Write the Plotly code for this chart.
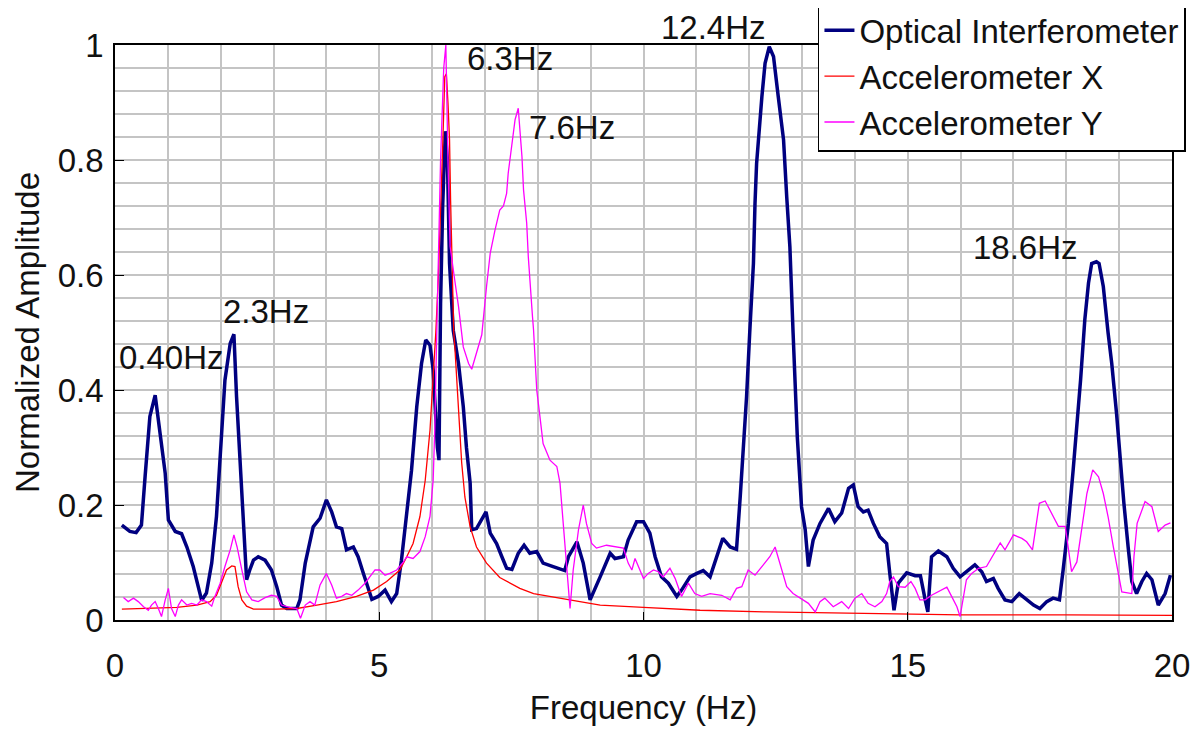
import plotly.graph_objects as go

# ---------------- data ----------------
opt_freq = [0.13,0.28,0.40,0.50,0.57,0.66,0.76,0.85,0.95,1.01,1.14,1.26,1.36,1.48,1.58,1.64,1.73,1.83,1.92,2.00,
            2.08,2.18,2.25,2.30,2.37,2.43,2.49,2.55,2.62,2.71,2.84,2.96,3.06,3.15,3.25,3.44,3.50,3.60,3.75,3.88,
            4.00,4.10,4.19,4.29,4.38,4.51,4.60,4.70,4.79,4.86,4.98,5.11,5.23,5.33,5.42,5.52,5.61,5.71,5.80,5.88,
            5.96,6.02,6.07,6.10,6.13,6.16,6.20,6.25,6.29,6.33,6.40,6.50,6.59,6.65,6.72,6.75,6.84,6.94,7.02,7.10,
            7.22,7.32,7.41,7.51,7.63,7.74,7.85,7.98,8.10,8.29,8.51,8.58,8.74,8.86,8.99,9.18,9.37,9.46,9.62,9.71,
            9.87,10.00,10.12,10.22,10.34,10.47,10.63,10.72,10.88,11.01,11.13,11.26,11.38,11.50,11.64,11.76,11.83,11.89,11.95,12.01,
            12.08,12.11,12.14,12.24,12.30,12.38,12.46,12.55,12.65,12.71,12.77,12.83,12.91,12.99,13.06,13.12,13.21,13.34,13.50,13.62,
            13.75,13.88,13.97,14.06,14.16,14.25,14.35,14.47,14.60,14.66,14.74,14.82,14.98,15.14,15.24,15.33,15.38,15.45,15.58,15.74,
            15.86,15.99,16.11,16.27,16.40,16.49,16.62,16.71,16.84,16.97,17.11,17.25,17.38,17.50,17.63,17.75,17.87,17.94,18.04,18.13,
            18.21,18.27,18.35,18.42,18.48,18.57,18.62,18.70,18.79,18.86,18.95,19.02,19.09,19.17,19.24,19.33,19.43,19.52,19.62,19.74,
            19.87,19.97]
opt_amp = [0.165,0.154,0.152,0.165,0.25,0.354,0.391,0.33,0.255,0.174,0.154,0.15,0.127,0.093,0.058,0.034,0.047,0.099,0.18,0.30,
           0.417,0.481,0.497,0.388,0.26,0.157,0.07,0.087,0.104,0.11,0.104,0.087,0.058,0.026,0.02,0.02,0.035,0.099,0.162,0.177,
           0.209,0.188,0.162,0.159,0.122,0.127,0.11,0.081,0.058,0.036,0.041,0.052,0.032,0.046,0.104,0.18,0.26,0.371,0.446,0.487,
           0.478,0.435,0.34,0.30,0.278,0.55,0.72,0.85,0.80,0.62,0.504,0.446,0.371,0.30,0.238,0.157,0.159,0.174,0.188,0.151,
           0.133,0.11,0.09,0.088,0.116,0.13,0.116,0.119,0.099,0.093,0.086,0.11,0.136,0.099,0.035,0.075,0.116,0.107,0.11,0.139,
           0.171,0.171,0.151,0.11,0.075,0.064,0.041,0.052,0.075,0.081,0.086,0.075,0.11,0.142,0.127,0.123,0.214,0.30,0.388,0.50,
           0.62,0.725,0.794,0.91,0.968,0.997,0.98,0.91,0.835,0.736,0.649,0.50,0.319,0.197,0.157,0.093,0.139,0.168,0.194,0.171,
           0.186,0.229,0.235,0.197,0.188,0.191,0.168,0.145,0.133,0.081,0.017,0.064,0.082,0.077,0.077,0.035,0.014,0.11,0.12,0.11,
           0.09,0.075,0.084,0.096,0.084,0.067,0.072,0.055,0.035,0.032,0.046,0.035,0.026,0.02,0.032,0.038,0.035,0.087,0.168,0.261,
           0.342,0.417,0.522,0.586,0.62,0.623,0.62,0.58,0.50,0.446,0.36,0.273,0.203,0.127,0.067,0.046,0.067,0.081,0.07,0.026,
           0.046,0.078]

accx_freq = [0.13,0.54,1.17,1.55,1.80,1.92,2.02,2.11,2.21,2.27,2.33,2.40,2.49,2.62,3.06,3.44,3.82,4.19,4.57,4.89,
             5.14,5.39,5.52,5.64,5.77,5.87,5.96,6.02,6.07,6.12,6.16,6.20,6.24,6.27,6.30,6.33,6.35,6.37,6.39,6.41,
             6.43,6.47,6.51,6.56,6.62,6.72,6.84,7.03,7.28,7.66,7.92,8.55,9.18,10.00,11.07,12.33,13.59,15.00,16.00,18.00,
             20.00]
accx_amp = [0.019,0.02,0.022,0.026,0.032,0.043,0.067,0.087,0.094,0.093,0.058,0.035,0.024,0.019,0.019,0.02,0.026,0.032,0.041,0.052,
            0.067,0.087,0.11,0.133,0.18,0.243,0.33,0.417,0.50,0.60,0.70,0.823,0.945,0.95,0.90,0.835,0.73,0.632,0.557,0.499,
            0.475,0.417,0.342,0.273,0.214,0.162,0.127,0.099,0.074,0.055,0.046,0.036,0.026,0.022,0.017,0.014,0.012,0.011,0.009,0.009,
            0.008]

accy_freq = [0.16,0.25,0.35,0.44,0.54,0.63,0.69,0.76,0.82,0.88,0.95,1.01,1.07,1.14,1.20,1.26,1.36,1.45,1.55,1.64,
             1.73,1.83,1.89,1.99,2.08,2.18,2.25,2.31,2.40,2.49,2.59,2.71,2.84,2.96,3.06,3.15,3.31,3.44,3.51,3.60,
             3.69,3.78,3.88,4.00,4.10,4.19,4.29,4.38,4.48,4.60,4.73,4.82,4.92,5.01,5.11,5.20,5.33,5.45,5.52,5.64,
             5.77,5.87,5.96,6.02,6.05,6.10,6.16,6.22,6.26,6.30,6.34,6.43,6.50,6.59,6.69,6.75,6.84,6.94,7.03,7.10,
             7.19,7.28,7.35,7.41,7.44,7.51,7.57,7.63,7.70,7.73,7.79,7.82,7.85,7.90,7.92,7.95,7.98,8.04,8.10,8.23,
             8.36,8.42,8.48,8.55,8.61,8.67,8.77,8.86,8.92,9.02,9.11,9.30,9.46,9.62,9.71,9.78,9.84,9.90,10.00,10.09,
             10.19,10.28,10.37,10.50,10.60,10.72,10.85,10.97,11.10,11.26,11.48,11.64,11.76,11.86,11.98,12.11,12.27,12.39,12.49,12.58,
             12.71,12.83,12.99,13.12,13.25,13.34,13.43,13.59,13.75,13.88,14.00,14.13,14.25,14.38,14.51,14.60,14.66,14.73,14.82,14.95,
             15.06,15.14,15.23,15.33,15.45,15.58,15.74,15.83,15.93,15.99,16.05,16.11,16.21,16.34,16.49,16.62,16.75,16.84,17.00,17.16,
             17.25,17.36,17.49,17.60,17.72,17.85,17.98,18.04,18.10,18.20,18.29,18.39,18.50,18.61,18.70,18.79,18.89,18.99,19.05,19.24,
             19.28,19.34,19.49,19.62,19.74,19.87,19.97]
accy_amp = [0.039,0.032,0.038,0.032,0.023,0.017,0.026,0.032,0.02,0.006,0.035,0.055,0.02,0.006,0.026,0.035,0.026,0.029,0.026,0.035,
            0.032,0.024,0.041,0.064,0.093,0.122,0.148,0.127,0.087,0.049,0.035,0.032,0.039,0.043,0.041,0.026,0.022,0.02,0.003,0.026,
            0.032,0.026,0.061,0.081,0.061,0.038,0.041,0.046,0.043,0.052,0.064,0.075,0.087,0.087,0.078,0.081,0.087,0.10,0.11,0.107,
            0.119,0.145,0.18,0.243,0.33,0.55,0.80,0.96,1.0,0.80,0.65,0.59,0.545,0.475,0.446,0.436,0.464,0.496,0.58,0.638,
            0.678,0.713,0.72,0.742,0.777,0.83,0.87,0.89,0.806,0.748,0.69,0.632,0.586,0.527,0.504,0.446,0.40,0.354,0.307,0.278,
            0.267,0.238,0.168,0.099,0.02,0.087,0.157,0.20,0.168,0.133,0.125,0.13,0.127,0.125,0.099,0.087,0.107,0.093,0.072,0.081,
            0.087,0.084,0.075,0.09,0.072,0.041,0.064,0.046,0.041,0.046,0.043,0.035,0.055,0.058,0.087,0.078,0.096,0.11,0.127,0.099,
            0.058,0.046,0.036,0.029,0.014,0.032,0.038,0.023,0.032,0.02,0.038,0.046,0.029,0.023,0.032,0.046,0.067,0.075,0.058,0.057,
            0.067,0.055,0.035,0.035,0.043,0.049,0.057,0.041,0.023,0.006,0.035,0.07,0.081,0.09,0.093,0.113,0.134,0.122,0.148,0.142,
            0.136,0.122,0.203,0.207,0.186,0.163,0.163,0.127,0.084,0.101,0.162,0.22,0.261,0.249,0.22,0.18,0.127,0.075,0.049,0.046,
            0.11,0.168,0.206,0.197,0.154,0.165,0.169]

series_names = ["Optical Interferometer", "Accelerometer X", "Accelerometer Y"]
peak_labels = ["0.40Hz", "2.3Hz", "6.3Hz", "7.6Hz", "12.4Hz", "18.6Hz"]
x_ticks = [0, 5, 10, 15, 20]
y_ticks = [0, 0.2, 0.4, 0.6, 0.8, 1]

# ---------------- figure ----------------
FONT = "Liberation Sans, Arial, sans-serif"
FS = 33
fig = go.Figure()
fig.add_trace(go.Scatter(x=opt_freq, y=opt_amp, mode="lines", name=series_names[0],
                         line=dict(color="#000080", width=3.5)))
fig.add_trace(go.Scatter(x=accx_freq, y=accx_amp, mode="lines", name=series_names[1],
                         line=dict(color="#ff0000", width=1.3)))
fig.add_trace(go.Scatter(x=accy_freq, y=accy_amp, mode="lines", name=series_names[2],
                         line=dict(color="#ff00ff", width=1.3)))

# label anchor points (x in Hz, y as fraction of plot height)
label_pos = [(0.04, 0.456), (2.0, 0.536), (6.62, 0.977), (7.79, 0.856), (10.29, 1.031), (16.2, 0.647)]
for txt, (ax_, ay_) in zip(peak_labels, label_pos):
    fig.add_annotation(x=ax_, y=ay_, xref="x", yref="paper", text=txt, showarrow=False,
                       xanchor="left", yanchor="middle",
                       font=dict(family=FONT, size=FS, color="#111"))

grid_col = "#c4c4c4"
# page body has an 8px margin, so the figure is sized/offset to land the plot box at 115..1172 x 45..620
fig.update_layout(
    width=1193, height=727,
    margin=dict(l=107, r=29, t=37, b=115, autoexpand=False),
    paper_bgcolor="white", plot_bgcolor="white",
    font=dict(family=FONT, size=FS, color="#111"),
    showlegend=True,
    legend=dict(x=1.0132, y=1.077, xanchor="right", yanchor="top",
                bgcolor="white", bordercolor="black", borderwidth=1.5,
                font=dict(family=FONT, size=FS, color="#111"),
                tracegroupgap=0, itemwidth=30),
    xaxis=dict(range=[0, 20], tickvals=x_ticks, showgrid=True, gridcolor=grid_col, gridwidth=2,
               minor=dict(dtick=1, showgrid=True, gridcolor=grid_col, gridwidth=2),
               ticks="inside", ticklen=8, tickcolor="black", showline=True, linecolor="black",
               linewidth=1.5, mirror=True, zeroline=False, ticklabelstandoff=16,
               title=dict(text="Frequency (Hz)", standoff=13, font=dict(size=FS))),
    yaxis=dict(range=[0, 1], tickvals=y_ticks, showgrid=True, gridcolor=grid_col, gridwidth=2,
               minor=dict(dtick=0.04, showgrid=True, gridcolor=grid_col, gridwidth=2),
               ticks="inside", ticklen=9, tickcolor="black", showline=True, linecolor="black",
               linewidth=1.5, mirror=True, zeroline=False, ticklabelstandoff=3,
               title=dict(text="Normalized Amplitude", standoff=8, font=dict(size=FS))),
)

fig.write_html("out.html")
